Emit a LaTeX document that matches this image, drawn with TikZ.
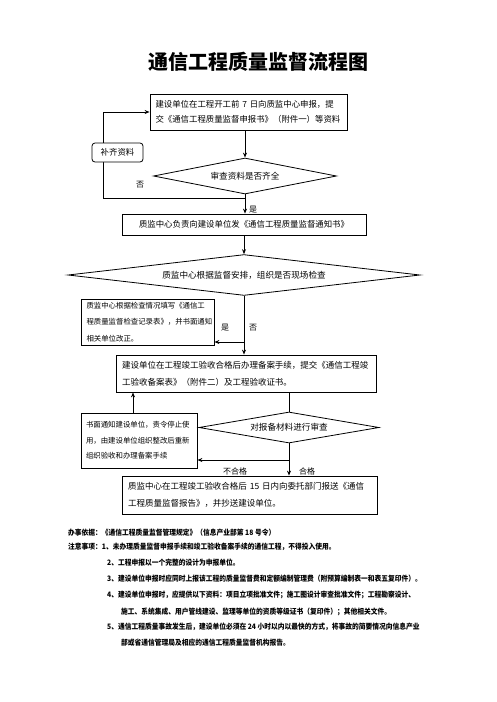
\documentclass[tikz,border=0pt]{standalone}
\usepackage{fontspec}
\newfontfamily\cjk{Noto Sans CJK SC}
\newfontfamily\cjknarrow{Noto Sans CJK SC}[FakeStretch=0.9]
\usetikzlibrary{shapes.geometric,arrows.meta}
\tikzset{
  box/.style={draw, line width=0.8pt, inner sep=0pt, fill=white, align=left},
  dia/.style={draw, line width=0.8pt, diamond, inner sep=0pt, aspect=5},
  arr/.style={line width=0.9pt, -{Stealth[length=5pt,width=4pt]}},
  ln/.style={line width=0.9pt},
  lbl/.style={font=\cjk\fontsize{8}{9}\selectfont, inner sep=0pt},
  note/.style={anchor=west, inner sep=0pt, font=\cjknarrow\bfseries\fontsize{7.5}{9}\selectfont}
}
\begin{document}
\begin{tikzpicture}[x=1pt,y=-1pt]
\useasboundingbox (0,0) rectangle (496,702);
% title
\node[inner sep=0pt, font=\cjk\bfseries\fontsize{20}{22}\selectfont] (title) at (258,62) {通信工程质量监督流程图};
% box1
\node[box, minimum width=197pt, minimum height=36pt, text width=186pt, font=\cjk\fontsize{8.4}{15}\selectfont] (b1) at (248.5,112)
  {建设单位在工程开工前 7 日向质监中心申报，提\\交《通信工程质量监督申报书》（附件一）等资料};
% diamond1
\node[dia, minimum width=183pt, minimum height=36pt, font=\cjk\fontsize{8.6}{10}\selectfont] (d1) at (245,176) {审查资料是否齐全};
\coordinate (c1) at (103,198);
\draw[arr] (d1.north |- b1.south) -- (d1.north);
\draw[arr] (d1.south) -- (d1.south |- c1) -- (c1) -- (c1 |- b1.west) -- (b1.west);
% supplement box
\node[box, rounded corners=3pt, minimum width=51pt, minimum height=19pt, align=center, font=\cjk\fontsize{8.4}{10}\selectfont] (sup) at (117.5,152.5) {补齐资料};
\node[lbl] (no1) at (140,185) {否};
% box2
\node[box, minimum width=244pt, minimum height=21pt, align=center, font=\cjk\fontsize{8.4}{10}\selectfont] (b2) at (244,224.5) {质监中心负责向建设单位发《通信工程质量监督通知书》};
\draw[arr] (d1.south |- c1) -- (d1.south |- b2.north);
\node[lbl] (yes1) at (253,210) {是};
% diamond2
\node[dia, minimum width=352pt, minimum height=36pt, font=\cjk\fontsize{8.6}{10}\selectfont] (d2) at (244,275) {质监中心根据监督安排，组织是否现场检查};
\draw[arr] (d2.north |- b2.south) -- (d2.north);
% box3
\node[box, minimum width=133pt, minimum height=46pt, text width=122pt, font=\cjk\fontsize{7.4}{16.5}\selectfont] (b3) at (147.5,322)
  {质监中心根据检查情况填写《通信工\\程质量监督检查记录表》，并书面通知\\相关单位改正。};
% box4
\node[box, minimum width=260pt, minimum height=37pt, text width=248pt, font=\cjk\fontsize{8.5}{17}\selectfont] (b4) at (246,373.5)
  {建设单位在工程竣工验收合格后办理备案手续，提交《通信工程竣\\工验收备案表》（附件二）及工程验收证书。};
\coordinate (c2) at (244,342);
\draw[arr] (d2.south) -- (d2.south |- b4.north);
\draw[arr] (c2) -- (c2 -| b3.east);
\node[lbl] (yes2) at (225,328) {是};
\node[lbl] (no2) at (253,328) {否};
% box5
\node[box, minimum width=116pt, minimum height=55pt, text width=106pt, font=\cjk\fontsize{7.4}{15.5}\selectfont] (b5) at (139,440.5)
  {书面通知建设单位，责令停止使\\用，由建设单位组织整改后重新\\组织验收和办理备案手续};
\draw[arr] ([xshift=-6pt]b5.north) -- ([xshift=-6pt]b5.north |- b4.south);
% diamond3
\node[dia, minimum width=180pt, minimum height=31pt, font=\cjk\fontsize{8.6}{10}\selectfont] (d3) at (289,427.5) {对报备材料进行审查};
\draw[ln] (d3.north |- b4.south) -- (d3.north);
% box6
\node[box, minimum width=255pt, minimum height=38pt, text width=243pt, font=\cjk\fontsize{8.5}{17}\selectfont] (b6) at (249.5,495)
  {质监中心在工程竣工验收合格后 15 日内向委托部门报送《通信\\工程质量监督报告》，并抄送建设单位。};
\coordinate (c3) at (289,460);
\draw[arr] (d3.south) -- (d3.south |- b6.north);
\draw[arr] (c3) -- (c3 -| b5.east);
\node[lbl] (ng) at (235,471) {不合格};
\node[lbl] (ok) at (307,471) {合格};
% notes
\node[note] (n1) at (68,533) {办事依据：《通信工程质量监督管理规定》（信息产业部第 18 号令）};
\node[note] (n2) at (68,547) {注意事项：1、未办理质量监督申报手续和竣工验收备案手续的通信工程，不得投入使用。};
\node[note] (n3) at (107,563) {2、工程申报以一个完整的设计为申报单位。};
\node[note] (n4) at (107,579) {3、建设单位申报时应同时上报该工程的质量监督费和定额编制管理费（附预算编制表一和表五复印件）。};
\node[note] (n5) at (107,595) {4、建设单位申报时，应提供以下资料：项目立项批准文件；施工图设计审查批准文件；工程勘察设计、};
\node[note] (n6) at (121,612) {施工、系统集成、用户管线建设、监理等单位的资质等级证书（复印件）；其他相关文件。};
\node[note] (n7) at (107,627) {5、通信工程质量事故发生后，建设单位必须在 24 小时以内以最快的方式，将事故的简要情况向信息产业};
\node[note] (n8) at (121,643) {部或省通信管理局及相应的通信工程质量监督机构报告。};
\end{tikzpicture}
\end{document}
